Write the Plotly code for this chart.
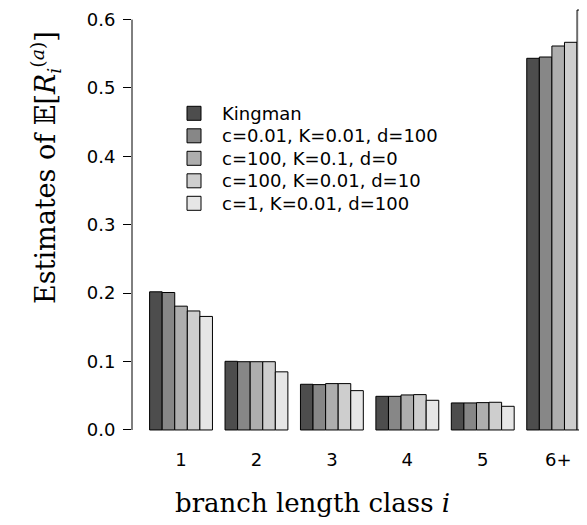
import plotly.graph_objects as go

categories = ["1", "2", "3", "4", "5", "6+"]
series_names = [
    "Kingman",
    "c=0.01, K=0.01, d=100",
    "c=100, K=0.1, d=0",
    "c=100, K=0.01, d=10",
    "c=1, K=0.01, d=100",
]
kingman = [0.202, 0.1004, 0.0668, 0.0492, 0.0395, 0.5434]
c001_K001_d100 = [0.201, 0.0998, 0.0663, 0.0492, 0.0395, 0.5453]
c100_K01_d0 = [0.181, 0.0998, 0.0678, 0.0512, 0.0400, 0.5614]
c100_K001_d10 = [0.174, 0.0998, 0.0678, 0.0517, 0.0405, 0.5668]
c1_K001_d100 = [0.166, 0.0850, 0.0575, 0.0434, 0.0346, 0.6140]
series_values = [kingman, c001_K001_d100, c100_K01_d0, c100_K001_d10, c1_K001_d100]
colors = ["#4D4D4D", "#878787", "#AEAEAE", "#CECECE", "#E6E6E6"]
y_ticks = [0.0, 0.1, 0.2, 0.3, 0.4, 0.5, 0.6]
y_tick_labels = ["0.0", "0.1", "0.2", "0.3", "0.4", "0.5", "0.6"]

# page body has an 8px default margin; size the figure to fit the window
OFF = 8
W, H = 587 - OFF, 525 - OFF
L, R, T, B = 132 - OFF, 0, 0, 78
PW, PH = W - L - R, H - T - B

def px_x(px):  # window pixel -> paper
    return (px - OFF - L) / PW

def px_y(py):
    return (H - B - (py - OFF)) / PH

fig = go.Figure()
for name, vals, col in zip(series_names, series_values, colors):
    fig.add_trace(go.Bar(
        x=categories, y=vals, name=name,
        marker=dict(color=col, line=dict(color="black", width=1)),
        showlegend=False,
    ))

sans = "DejaVu Sans"
serif = "DejaVu Serif"

shapes = [dict(type="line", xref="paper", yref="y", x0=0, x1=0,
               y0=y_ticks[0], y1=y_ticks[-1],
               line=dict(color="black", width=1))]
annotations = []

# manual legend (R style)
leg_x0, leg_y0, leg_dy, sq = 187, 113.3, 22.5, 14
for i, (name, col) in enumerate(zip(series_names, colors)):
    cy = leg_y0 + i * leg_dy
    shapes.append(dict(type="rect", xref="paper", yref="paper",
                       x0=px_x(leg_x0), x1=px_x(leg_x0 + sq),
                       y0=px_y(cy + sq / 2), y1=px_y(cy - sq / 2),
                       fillcolor=col, line=dict(color="black", width=1)))
    annotations.append(dict(text=name, xref="paper", yref="paper",
                            x=px_x(220), y=px_y(cy), xanchor="left", yanchor="middle",
                            showarrow=False, font=dict(family=sans, size=18, color="black")))

annotations.append(dict(
    text="Estimates of 𝔼[<i>R</i><sub><i>i</i></sub><sup>(<i>a</i>)</sup>]",
    xref="paper", yref="paper", x=px_x(45), y=px_y(168),
    xanchor="center", yanchor="middle", textangle=-90, showarrow=False,
    font=dict(family=serif, size=27, color="black")))
annotations.append(dict(
    text="branch length class <i>i</i>",
    xref="paper", yref="paper", x=px_x(312), y=px_y(503),
    xanchor="center", yanchor="middle", showarrow=False,
    font=dict(family=serif, size=26, color="black")))

y_top = (430 - OFF) / 684.0
y_bot = -0.0249

fig.update_layout(
    width=W, height=H,
    margin=dict(l=L, r=R, t=T, b=B, pad=0),
    paper_bgcolor="white", plot_bgcolor="white",
    barmode="group", bargap=1 / 6, bargroupgap=0,
    shapes=shapes, annotations=annotations,
    xaxis=dict(range=[-0.65, 5.382], showgrid=False, zeroline=False, showline=False,
               ticks="", tickfont=dict(family=sans, size=18, color="black"),
               fixedrange=True),
    yaxis=dict(range=[y_bot, y_top], showgrid=False, zeroline=False, showline=False,
               tickvals=y_ticks, ticktext=y_tick_labels, ticks="outside", ticklen=8,
               tickcolor="black", tickwidth=1, ticklabelstandoff=4,
               tickfont=dict(family=sans, size=18, color="black")),
    showlegend=False,
)

fig.write_html("out.html")
